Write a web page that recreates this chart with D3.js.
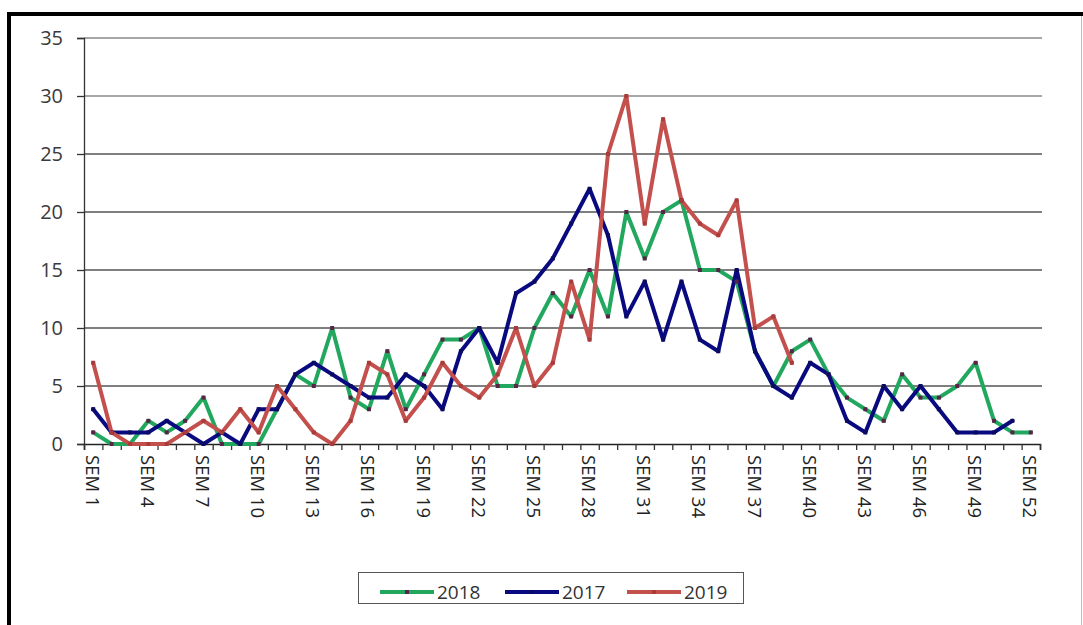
<!DOCTYPE html>
<html>
<head>
<meta charset="utf-8">
<script src="https://cdn.jsdelivr.net/npm/d3@7/dist/d3.min.js"></script>
<style>
html,body{margin:0;padding:0;background:#fff;}
svg{display:block;}
</style>
</head>
<body>
<svg id="chart" width="1083" height="625"></svg>
<script>
const categories = d3.range(1, 53).map(n => "SEM " + n);
const labelCategories = d3.range(1, 53, 3).map(n => "SEM " + n);
const yTicks = [0, 5, 10, 15, 20, 25, 30, 35];
const seriesNames = ["2018", "2017", "2019"];
const values2018 = [1,0,0,2,1,2,4,0,0,0, 3,6,5,10,4,3,8,3,6,9, 9,10,5,5,10,13,11,15,11,20, 16,20,21,15,15,14,8,5,8,9, 6,4,3,2,6,4,4,5,7,2, 1,1];
const values2017 = [3,1,1,1,2,1,0,1,0,3, 3,6,7,6,5,4,4,6,5,3, 8,10,7,13,14,16,19,22,18,11, 14,9,14,9,8,15,8,5,4,7, 6,2,1,5,3,5,3,1,1,1, 2];
const values2019 = [7,1,0,0,0,1,2,1,3,1, 5,3,1,0,2,7,6,2,4,7, 5,4,6,10,5,7,14,9,25,30, 19,28,21,19,18,21,10,11,7];

const colors = {"2018": "#22a85e", "2017": "#0a0a80", "2019": "#c4504d"};
const markerColors = {"2018": "#5a2448", "2017": "#0a0a60", "2019": "#a83c3a"};
const seriesData = {"2018": values2018, "2017": values2017, "2019": values2019};

const svg = d3.select("#chart");
const pLeft = 84, pRight = 1040, pTop = 38, pBottom = 444;

// outer frame
svg.append("line").attr("x1", 9).attr("x2", 9).attr("y1", 12).attr("y2", 625).attr("stroke", "#000").attr("stroke-width", 4);
svg.append("line").attr("x1", 7).attr("x2", 1083).attr("y1", 14).attr("y2", 14).attr("stroke", "#000").attr("stroke-width", 4);
svg.append("line").attr("x1", 1081.5).attr("x2", 1081.5).attr("y1", 16).attr("y2", 625).attr("stroke", "#bbb").attr("stroke-width", 1);

const x = d3.scalePoint().domain(categories).range([pLeft, pRight]).padding(0.5);
const xb = d3.scaleLinear().domain([0, categories.length]).range([pLeft, pRight]);
const y = d3.scaleLinear().domain([0, 35]).range([pBottom, pTop]);

// gridlines
svg.append("g").selectAll("line").data(yTicks.filter(d => d > 0)).join("line")
  .attr("x1", pLeft).attr("x2", pRight + 2)
  .attr("y1", d => y(d)).attr("y2", d => y(d))
  .attr("stroke", d => d >= 30 ? "#8a8a8a" : "#555").attr("stroke-width", 1.6);

// y axis
const yAxis = svg.append("g").attr("transform", `translate(${pLeft},0)`)
  .call(d3.axisLeft(y).tickValues(yTicks).tickSize(7).tickPadding(14));
yAxis.select(".domain").attr("stroke", "#333").attr("stroke-width", 1.3);
yAxis.selectAll(".tick line").attr("stroke", "#333").attr("stroke-width", 1.3);
yAxis.selectAll("text").attr("font-family", "'Open Sans', sans-serif").attr("font-size", 20).attr("fill", "#3a3a3a");

// x axis (ticks between categories)
const xAxis = svg.append("g").attr("transform", `translate(0,${pBottom})`)
  .call(d3.axisBottom(xb).tickValues(d3.range(0, categories.length + 1)).tickSize(6).tickFormat(""));
xAxis.select(".domain").attr("stroke", "#222").attr("stroke-width", 1.6);
xAxis.selectAll(".tick line").attr("stroke", "#333").attr("stroke-width", 1.3);

svg.append("g").selectAll("text").data(labelCategories).join("text")
  .attr("transform", d => `translate(${x(d)},${pBottom + 11}) rotate(90)`)
  .attr("text-anchor", "start").attr("dominant-baseline", "central")
  .attr("font-family", "'Open Sans', sans-serif").attr("font-size", 18.5).attr("fill", "#222")
  .text(d => d);

// series
const line = d3.line().x(d => x(d.c)).y(d => y(d.v));
seriesNames.forEach(name => {
  const pts = seriesData[name].map((v, i) => ({c: categories[i], v}));
  svg.append("path").datum(pts).attr("d", line)
    .attr("fill", "none").attr("stroke", colors[name]).attr("stroke-width", 4)
    .attr("stroke-linejoin", "round").attr("stroke-linecap", "round");
});
seriesNames.forEach(name => {
  const pts = seriesData[name].map((v, i) => ({c: categories[i], v}));
  svg.append("g").selectAll("rect").data(pts).join("rect")
    .attr("x", d => x(d.c) - 2).attr("y", d => y(d.v) - 2)
    .attr("width", 4).attr("height", 4)
    .attr("fill", markerColors[name]);
});

// legend
const lg = svg.append("g");
lg.append("rect").attr("x", 358.5).attr("y", 572.5).attr("width", 385).attr("height", 31)
  .attr("fill", "#fff").attr("stroke", "#555").attr("stroke-width", 1);
const legendX = [380, 505, 627];
seriesNames.forEach((name, i) => {
  const lx = legendX[i], ly = 592;
  lg.append("line").attr("x1", lx).attr("x2", lx + 54).attr("y1", ly).attr("y2", ly)
    .attr("stroke", colors[name]).attr("stroke-width", 4);
  lg.append("rect").attr("x", lx + 25).attr("y", ly - 2).attr("width", 4).attr("height", 4).attr("fill", markerColors[name]);
  lg.append("text").attr("x", lx + 57).attr("y", ly).attr("dominant-baseline", "central")
    .attr("font-family", "'Open Sans', sans-serif").attr("font-size", 19).attr("fill", "#333")
    .text(name);
});
</script>
</body>
</html>
